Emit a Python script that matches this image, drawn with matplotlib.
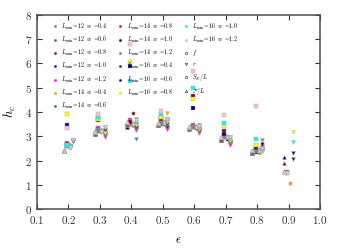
import numpy as np
import matplotlib.pyplot as plt
from matplotlib.lines import Line2D

plt.rcParams["font.family"] = "serif"
plt.rcParams["font.serif"] = ["cmr10", "DejaVu Serif"]
plt.rcParams["mathtext.fontset"] = "cm"
plt.rcParams["axes.formatter.use_mathtext"] = True

nan = np.nan
eps = [0.2, 0.3, 0.4, 0.5, 0.6, 0.7, 0.8, 0.9]

L_min = [12, 12, 12, 12, 12, 14, 14, 14, 14, 14, 16, 16, 16, 16, 16]
w = [0.4, 0.6, 0.8, 1.0, 1.2, 0.4, 0.6, 0.8, 1.0, 1.2, 0.4, 0.6, 0.8, 1.0, 1.2]
colors = ["steelblue", "forestgreen", "purple", "blue", "magenta",
          "orange", "teal", "red", "black", "gray",
          "darkred", "navy", "yellow", "cyan", "pink"]

# S_E / L  (squares)
se_vals = [
    [2.60, 3.20, 3.50, 3.50, 3.40, 2.95, 2.40, 1.50],
    [2.62, 3.25, 3.50, 3.55, 3.40, 2.95, 2.40, 1.52],
    [2.65, 3.30, 3.55, 3.60, 3.42, 3.00, 2.42, nan],
    [2.70, 3.32, 3.60, 3.62, 3.44, 3.00, 2.50, nan],
    [2.73, 3.36, 3.65, 3.66, 3.46, 3.02, 2.45, nan],
    [2.60, 3.20, 3.50, 3.50, 3.38, 2.95, 2.40, nan],
    [2.62, 3.22, 3.50, 3.52, 3.40, 2.97, 2.42, nan],
    [2.70, 3.30, 3.55, 3.60, 3.42, 3.00, 2.45, nan],
    [2.66, 3.70, 3.60, 3.75, 3.40, 3.05, 2.35, nan],
    [2.60, 3.25, 3.50, 3.55, 3.40, 2.95, 2.40, nan],
    [2.68, 3.65, 3.60, 3.70, 4.67, 3.23, 2.50, nan],
    [3.46, 3.75, 5.91, 3.80, 4.15, 3.10, 2.55, nan],
    [3.92, 3.70, 6.05, 3.80, 4.55, 3.42, 2.64, nan],
    [2.65, 3.80, 5.28, 3.90, 5.00, 3.53, 2.89, nan],
    [3.35, 3.90, 6.82, 4.05, 5.70, 3.88, 4.26, 1.48],
]

# F / L  (triangles up)
F_vals = [
    [2.40, 3.10, 3.40, 3.45, 3.30, 2.85, 2.30, nan],
    [2.40, 3.12, 3.42, 3.46, 3.32, 2.86, 2.32, 1.58],
    [2.38, 3.12, 3.45, 3.48, 3.33, 2.88, 2.33, nan],
    [2.40, 3.15, 3.48, 3.50, 3.35, 2.88, 2.35, nan],
    [2.42, 3.15, 3.50, 3.50, 3.35, 2.90, 2.36, nan],
    [2.40, 3.18, 3.52, 3.52, 3.36, 2.90, 2.38, nan],
    [2.42, 3.18, 3.55, 3.52, 3.38, 2.92, 2.40, nan],
    [2.40, 3.20, 3.55, 3.55, 3.38, 2.92, 2.40, nan],
    [2.38, 3.10, 3.40, 3.45, 3.30, 2.85, 2.30, nan],
    [2.40, 3.15, 3.45, 3.48, 3.35, 2.88, 2.35, nan],
    [2.42, 3.18, 3.50, 3.50, 3.36, 2.90, 2.38, 1.88],
    [2.40, 3.20, 3.55, 3.52, 3.38, 2.92, 2.40, 2.16],
    [2.42, 3.20, 3.58, 3.55, 3.40, 2.95, 2.42, nan],
    [2.40, 3.22, 3.58, 3.55, 3.40, 2.95, 2.44, 1.55],
    [2.38, 3.18, 3.60, 3.55, 3.42, 2.95, 2.45, 1.52],
]

# f  (pentagons)
f_vals = [
    [2.55, 3.20, 3.45, 3.52, 3.35, 2.92, 2.35, nan],
    [2.56, 3.22, 3.48, 3.54, 3.36, 2.94, 2.36, nan],
    [2.58, 3.22, 3.50, 3.55, 3.38, 2.95, 2.38, nan],
    [2.60, 3.24, 3.50, 3.56, 3.38, 2.96, 2.38, nan],
    [2.62, 3.25, 3.52, 3.58, 3.40, 2.98, 2.40, nan],
    [2.55, 3.20, 3.45, 3.52, 3.35, 2.92, 2.35, 1.09],
    [2.58, 3.22, 3.48, 3.55, 3.38, 2.95, 2.38, nan],
    [2.60, 3.24, 3.50, 3.56, 3.38, 2.96, 2.40, nan],
    [2.55, 3.20, 3.45, 3.50, 3.35, 2.90, 2.35, nan],
    [2.58, 3.22, 3.48, 3.55, 3.38, 2.95, 2.38, nan],
    [2.62, 3.25, 3.95, 3.58, 3.40, 2.98, 2.40, nan],
    [2.65, 3.26, 3.52, 3.58, 3.40, 2.98, 2.42, nan],
    [2.60, 3.24, 3.50, 3.56, 3.38, 2.96, 2.40, nan],
    [2.62, 3.25, 3.55, 3.60, 3.42, 3.00, 2.42, nan],
    [2.55, 3.22, 3.50, 3.55, 3.40, 2.98, 2.40, nan],
]

# r  (triangles down)
r_vals = [
    [2.80, 3.10, 2.90, 3.40, 3.20, 2.70, 2.40, nan],
    [2.82, 3.12, 3.30, 3.45, 3.22, 2.72, 2.42, nan],
    [2.80, 3.00, 3.25, 3.30, 3.18, 2.68, 2.40, nan],
    [2.82, 3.05, 3.28, 3.35, 3.20, 2.70, 2.42, nan],
    [2.80, 2.95, 3.25, 3.30, 3.15, 2.65, 2.38, nan],
    [2.84, 3.10, 3.35, 3.95, 3.25, 2.75, 2.45, nan],
    [2.82, 3.15, 3.40, 3.60, 3.28, 2.78, 2.48, nan],
    [2.84, 3.20, 3.45, 3.65, 3.30, 2.80, 2.60, nan],
    [2.82, 3.25, 3.50, 3.65, 3.32, 2.82, 2.70, nan],
    [2.85, 3.40, 3.70, 3.70, 3.45, 2.95, 2.85, nan],
    [2.80, 3.05, 3.35, 3.40, 3.20, 2.73, 2.55, 2.06],
    [2.82, 3.10, 3.40, 3.50, 3.25, 2.75, 2.50, 2.32],
    [2.84, 3.15, 3.45, 3.60, 3.30, 2.80, 2.35, 3.19],
    [2.83, 3.35, 3.60, 3.65, 3.40, 2.90, 2.45, 2.78],
    [2.85, 3.38, 3.68, 3.72, 3.42, 2.95, 2.50, nan],
]

quantities = [
    ("f", f_vals, "p", 0.005),
    ("r", r_vals, "v", 0.015),
    ("S_E", se_vals, "s", -0.005),
    ("F", F_vals, "^", -0.015),
]

fig = plt.figure(figsize=(3.38, 2.5), dpi=100)
ax = fig.add_axes([0.109, 0.164, 0.838, 0.776])

for name, vals, mk, dx in quantities:
    for i in range(len(L_min)):
        x = np.array(eps) + dx
        ax.plot(x, vals[i], ls="none", marker=mk, ms=2.8, mfc=colors[i],
                mec="0.65", mew=0.3)

handles = []
labels = []
for i in range(len(L_min)):
    handles.append(Line2D([], [], ls="none", marker="o", ms=2.0,
                          mfc=colors[i], mec="0.7", mew=0.2))
    labels.append(r"$L_{\rm min}$=%d  $w$ =%.1f" % (L_min[i], w[i]))
for lab, mk in [(r"$f$", "p"), (r"$r$", "v"), (r"$S_E/L$", "s"),
                (r"$\mathcal{F}/L$", "^")]:
    handles.append(Line2D([], [], ls="none", marker=mk, ms=1.8,
                          mfc="white", mec="0.3", mew=0.5))
    labels.append(lab)

ax.legend(handles, labels, ncol=3, loc="upper left",
          bbox_to_anchor=(0.04, 0.985), frameon=False, fontsize=4.3,
          handletextpad=0.6, columnspacing=1.6, labelspacing=0.55,
          handlelength=1.0, borderaxespad=0.2)

ax.set_xlim(0.1, 1.0)
ax.set_ylim(0, 8)
ax.set_xticks([0.1, 0.2, 0.3, 0.4, 0.5, 0.6, 0.7, 0.8, 0.9, 1.0])
ax.set_yticks(range(0, 9))
ax.tick_params(direction="in", top=True, right=True, length=3.5,
               width=0.8, labelsize=8, colors="0.2")
for s in ax.spines.values():
    s.set_linewidth(1.1)
    s.set_color("0.3")
ax.set_xlabel(r"$\epsilon$", fontsize=9, labelpad=6)
ax.set_ylabel(r"$h_c$", fontsize=9, labelpad=5)

plt.savefig("out.png", dpi=100)
plt.close()
